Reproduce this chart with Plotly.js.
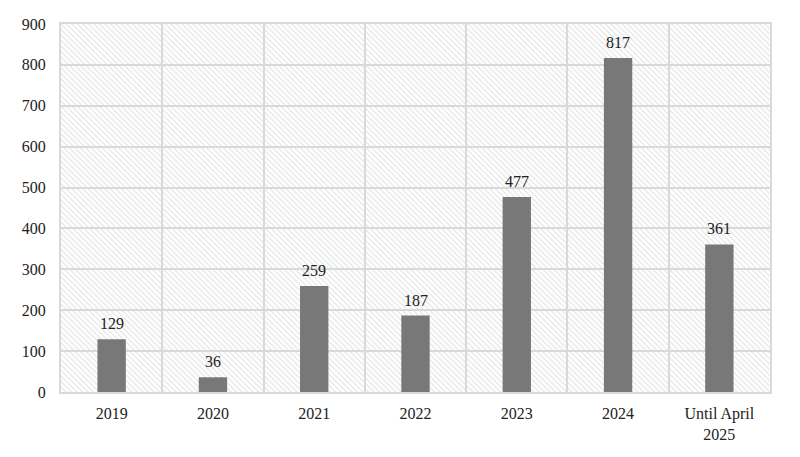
<!DOCTYPE html>
<html><head><meta charset="utf-8">
<script src="https://cdn.plot.ly/plotly-3.0.1.min.js"></script>
<style>body{margin:0;background:#fff}</style>
</head><body>
<div id="chart" style="width:800px;height:457px"></div>
<script>
const categories = ["2019","2020","2021","2022","2023","2024","Until April<br>2025"];
const values = [129, 36, 259, 187, 477, 817, 361];
const yTicks = [0,100,200,300,400,500,600,700,800,900];
const yMax = 900;

const svg = "<svg xmlns='http://www.w3.org/2000/svg' width='709' height='368'>" +
  "<defs><pattern id='p' width='5.5' height='5.5' patternUnits='userSpaceOnUse'>" +
  "<path d='M-1,-1 L6.5,6.5 M-1,4.5 L1,6.5 M4.5,-1 L6.5,1' stroke='#e0e0e0' stroke-width='1.1'/></pattern></defs>" +
  "<rect width='100%' height='100%' fill='url(#p)'/></svg>";
const hatchSrc = 'data:image/svg+xml;charset=utf-8,' + encodeURIComponent(svg);

const data = {
  type: 'bar', x: categories, y: values, width: 0.28,
  marker: {color: '#787878', line: {width: 0}},
  showlegend: false
};
const labels = values.map((v, i) => ({
  x: i, y: v, xref: 'x', yref: 'y', text: String(v),
  showarrow: false, yanchor: 'bottom', yshift: 5,
  font: {family: 'Liberation Serif', size: 16, color: '#222'}
}));
const layout = {
  width: 800, height: 457,
  margin: {l: 61, r: 30, t: 24, b: 65},
  paper_bgcolor: '#fff', plot_bgcolor: '#fff',
  font: {family: 'Liberation Serif', size: 16, color: '#222'},
  annotations: labels,
  images: [{source: hatchSrc, xref: 'paper', yref: 'paper', x: 0, y: 1, sizex: 1, sizey: 1,
    sizing: 'stretch', xanchor: 'left', yanchor: 'top', layer: 'below'}],
  xaxis: {type: 'category', categoryorder: 'array', categoryarray: categories,
    tickson: 'boundaries', showgrid: true, gridcolor: '#d9d9d9', gridwidth: 2,
    showline: true, linecolor: '#d9d9d9', linewidth: 2, mirror: true, ticks: '', ticklen: 0, ticklabelstandoff: 6},
  yaxis: {range: [0, yMax], tickvals: yTicks, showgrid: true, gridcolor: '#d9d9d9', gridwidth: 2,
    zeroline: false, showline: true, linecolor: '#d9d9d9', linewidth: 2, mirror: true, ticks: '', ticklabelstandoff: 10}
};
Plotly.newPlot('chart', [data], layout, {displayModeBar: false, staticPlot: true});
</script>
</body></html>
